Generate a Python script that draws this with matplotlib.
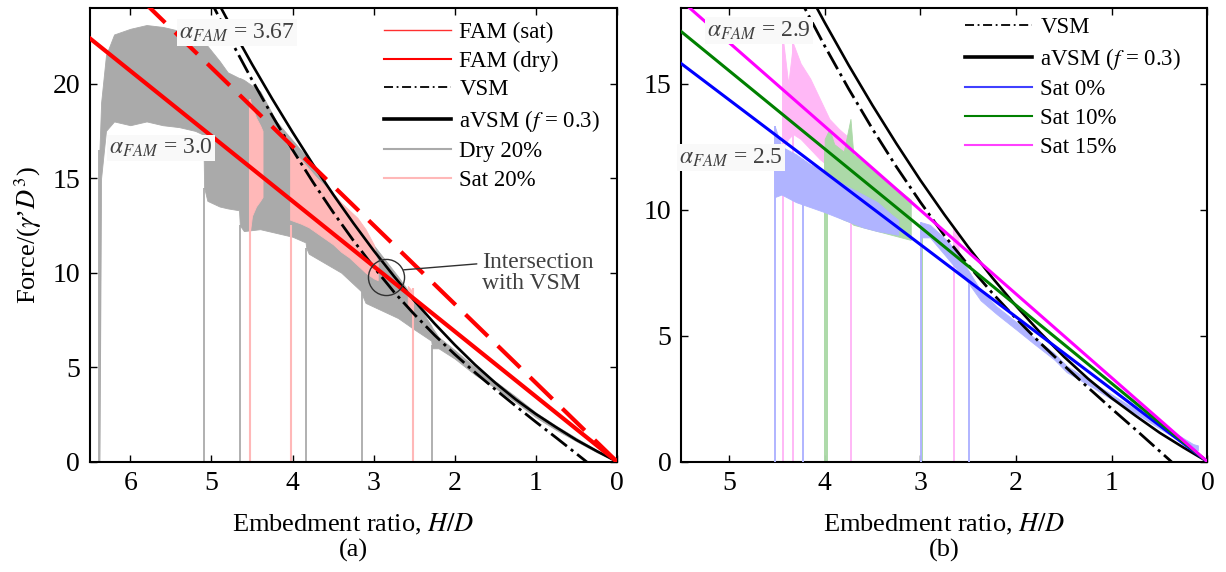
import matplotlib
matplotlib.use('Agg')
import matplotlib.pyplot as plt
from matplotlib.lines import Line2D

plt.rcParams['font.family'] = ['Liberation Serif', 'DejaVu Serif']
plt.rcParams['mathtext.fontset'] = 'stix'

# ---------------- model curves ----------------
# aVSM (f = 0.3)
avsm_h = [0, 0.25, 0.5, 0.75, 1.0, 1.25, 1.5, 1.75, 2.0, 2.25, 2.5, 2.75,
          3.0, 3.25, 3.5, 3.75, 4.0, 4.25, 4.5, 4.75, 5.0, 5.25]
avsm_f = [0, 0.56, 1.15, 1.82, 2.52, 3.3, 4.17, 5.13, 6.18, 7.31, 8.52, 9.81,
          11.17, 12.62, 14.14, 15.74, 17.43, 19.19, 21.03, 22.95, 24.95, 27.0]
# VSM
vsm_h = [0.3, 0.4, 0.5, 0.75, 1.0, 1.25, 1.5, 1.75, 2.0, 2.25, 2.5, 2.75,
         3.0, 3.25, 3.5, 3.75, 4.0, 4.25, 4.5, 4.75, 5.0, 5.25]
vsm_f = [-0.27, 0.08, 0.42, 1.27, 2.1, 2.95, 3.82, 4.72, 5.68, 6.7, 7.8, 8.98,
         10.3, 11.7, 13.2, 14.8, 16.5, 18.3, 20.2, 22.2, 24.3, 26.5]

# FAM lines, panel (a)
fam_h_a = [0, 6.5]
fam_sat_f = [0, 27.1]   # alpha_FAM = 3.67
fam_dry_f = [0, 22.4]   # alpha_FAM = 3.0
# FAM lines, panel (b)
fam_h_b = [0, 5.5]
fam_s0_f = [0, 15.8]    # alpha_FAM = 2.5
fam_s10_f = [0, 17.07]
fam_s15_f = [0, 18.3]   # alpha_FAM = 2.9

# ---------------- test data envelopes ----------------
# Dry 20% (grey)
dry_x = [6.38, 6.36, 6.3, 6.2, 6.0, 5.8, 5.6, 5.4, 5.2, 5.1, 5.09, 5.05, 4.9, 4.8,
         4.66, 4.65, 4.6, 4.4, 4.2, 4.0, 3.84, 3.83, 3.8, 3.6, 3.4, 3.15, 3.14, 3.1,
         2.9, 2.7, 2.5, 2.29, 2.28, 2.2, 2.0, 1.75, 1.5, 1.25, 1.0, 0.75, 0.5, 0.25, 0.0]
dry_hi = [16.5, 19.0, 21.5, 22.6, 22.9, 23.1, 23.0, 22.8, 22.5, 22.3, 22.2, 22.0, 21.2, 20.6,
          20.3, 20.3, 20.2, 19.6, 18.0, 17.0, 16.2, 16.2, 16.0, 14.8, 13.6, 12.3, 12.2, 12.0,
          10.9, 9.8, 8.6, 7.2, 7.1, 6.6, 5.9, 5.0, 4.25, 3.45, 2.6, 1.9, 1.25, 0.62, 0.0]
dry_lo = [0.0, 15.0, 17.5, 18.0, 17.8, 18.0, 17.8, 17.7, 17.5, 17.3, 14.5, 13.8, 13.5, 13.4,
          13.3, 12.5, 12.2, 12.3, 12.1, 11.9, 11.6, 11.3, 11.0, 10.5, 10.0, 9.0, 8.8, 8.4,
          8.0, 7.6, 7.0, 6.4, 6.0, 6.0, 5.45, 4.6, 3.9, 3.15, 2.35, 1.68, 1.08, 0.5, 0.0]
dry_start = [6.38, 5.09, 4.65, 3.83, 3.14, 2.28]
dry_start_top = [16.5, 14.5, 12.5, 11.3, 9.6, 6.2]

# Sat 20% (pink)
sat20_x1 = [4.53, 4.5, 4.45, 4.4, 4.37]
sat20_hi1 = [19.2, 18.8, 18.2, 17.8, 17.5]
sat20_lo1 = [12.0, 13.0, 13.5, 13.8, 14.0]
sat20_x2 = [4.03, 3.9, 3.8, 3.7, 3.6, 3.5, 3.4, 3.3, 3.2, 3.1, 3.0, 2.95]
sat20_hi2 = [16.5, 16.0, 15.5, 15.0, 14.6, 14.2, 13.7, 13.3, 12.9, 12.3, 11.5, 10.5]
sat20_lo2 = [12.8, 12.6, 12.4, 12.1, 11.8, 11.5, 11.1, 10.8, 10.4, 10.0, 9.7, 9.6]
sat20_x3 = [2.58, 2.52]
sat20_hi3 = [9.3, 9.0]
sat20_lo3 = [8.2, 8.0]
sat20_start = [4.53, 4.02, 2.52]
sat20_start_top = [19.2, 12.5, 9.2]

# Sat 0% (light blue)
s0_x1 = [4.52, 4.45, 4.3, 4.15, 4.0, 3.8, 3.6, 3.45, 3.3, 3.23]
s0_hi1 = [13.3, 12.5, 12.2, 11.8, 11.5, 11.0, 10.6, 10.3, 9.8, 9.6]
s0_lo1 = [10.5, 10.6, 10.3, 10.1, 9.9, 9.6, 9.3, 9.15, 9.05, 9.0]
s0_x2 = [2.99, 2.9, 2.7, 2.5, 2.37, 2.2, 2.0, 1.82, 1.6, 1.47, 1.2, 0.95, 0.7, 0.43, 0.15, 0.1]
s0_hi2 = [9.5, 9.4, 8.7, 7.6, 6.8, 6.15, 5.55, 4.95, 4.3, 3.8, 3.15, 2.55, 1.95, 1.35, 0.7, 0.65]
s0_lo2 = [8.9, 8.9, 8.0, 7.1, 6.4, 5.85, 5.25, 4.7, 4.05, 3.55, 2.95, 2.35, 1.8, 1.15, 0.5, 0.45]
s0_start = [4.52, 4.23, 2.99, 2.49]
s0_start_top = [13.3, 12.0, 9.5, 7.4]

# Sat 10% (light green)
s10_x = [4.0, 3.95, 3.9, 3.8, 3.73, 3.7, 3.6, 3.5, 3.4, 3.3, 3.2, 3.1]
s10_hi = [12.8, 13.2, 12.6, 12.3, 13.6, 12.2, 11.9, 11.6, 11.3, 11.0, 10.7, 10.4]
s10_lo = [10.0, 9.9, 9.8, 9.6, 9.5, 9.4, 9.3, 9.2, 9.1, 9.0, 8.9, 8.8]
s10_start = [4.0, 3.97, 2.98]
s10_start_top = [12.5, 12.8, 9.3]

# Sat 15% (light magenta)
s15_x1 = [4.43, 4.38, 4.33, 4.25, 4.15, 4.05, 3.95, 3.85, 3.73]
s15_hi1 = [16.6, 15.0, 16.6, 15.8, 15.2, 14.4, 13.6, 13.2, 12.8]
s15_lo1 = [12.5, 12.8, 13.0, 12.8, 12.4, 12.0, 11.7, 11.4, 11.0]
s15_x2 = [2.66, 2.6]
s15_hi2 = [9.3, 9.0]
s15_lo2 = [8.5, 8.3]
s15_start = [4.43, 4.33, 3.72, 2.65]
s15_start_top = [16.6, 16.6, 12.8, 9.3]

GREY = '#aaaaaa'
PINK = '#ffb8b8'
LBLUE = '#b0b4ff'
LGREEN = '#acd9a8'
LMAG = '#ffb8f6'
TXT = '#404040'

fig = plt.figure(figsize=(12.26, 5.72), dpi=100)
ax1 = fig.add_axes([0.0732, 0.1928, 0.4301, 0.7932])
ax2 = fig.add_axes([0.5555, 0.1928, 0.4294, 0.7932])

dashdot = (0, (7.2, 1.8, 1.1, 1.8))

# ---------------- panel (a) ----------------
ax1.fill_between(dry_x, dry_lo, dry_hi, color=GREY, lw=0.6, zorder=1)
ax1.vlines(dry_start, 0, dry_start_top, color=GREY, lw=1.3, zorder=1)
for xs, lo, hi in [(sat20_x1, sat20_lo1, sat20_hi1), (sat20_x2, sat20_lo2, sat20_hi2),
                   (sat20_x3, sat20_lo3, sat20_hi3)]:
    ax1.fill_between(xs, lo, hi, color=PINK, lw=0.6, zorder=2)
ax1.vlines(sat20_start, 0, sat20_start_top, color=PINK, lw=1.5, zorder=2)

ax1.plot(vsm_h, vsm_f, color='k', lw=2.0, ls=dashdot, zorder=4)
ax1.plot(avsm_h, avsm_f, color='k', lw=1.9, zorder=4)
ax1.plot(fam_h_a, fam_dry_f, color='#ff0000', lw=3.0, zorder=5)
ax1.plot(fam_h_a, fam_sat_f, color='#ff0000', lw=3.0, ls=(0, (7.5, 3.3)), zorder=5)

ax1.plot([2.845], [9.76], marker='o', ms=26, mfc='none', mec='#303030', mew=1.0, zorder=6)
ax1.annotate('Intersection\nwith VSM', xy=(2.63, 10.15), xytext=(1.66, 10.0),
             ha='left', va='center', fontsize=17, color=TXT, linespacing=1.0,
             arrowprops=dict(arrowstyle='-', color='#303030', lw=1.0,
                             relpos=(0, 0.72), shrinkA=2, shrinkB=0), zorder=7)
box = dict(facecolor='#f9f9f9', edgecolor='none', pad=1.5)
ax1.text(4.68, 22.7, r'$\alpha_{FAM}$ = 3.67', fontsize=17, color=TXT,
         ha='center', va='center', bbox=box, zorder=7)
ax1.text(5.62, 16.6, r'$\alpha_{FAM}$ = 3.0', fontsize=17, color=TXT,
         ha='center', va='center', bbox=box, zorder=7)

ax1.set_xlim(6.5, 0)
ax1.set_ylim(0, 24)
ax1.set_xticks([6, 5, 4, 3, 2, 1, 0])
ax1.set_yticks([0, 5, 10, 15, 20])
ax1.set_xlabel('Embedment ratio, $H/D$', fontsize=19, labelpad=11)
ax1.set_ylabel("Force/($\\gamma$\u2019$D^3$)", fontsize=19, labelpad=6)

h1 = [Line2D([], [], color='#ff3030', lw=1.0),
      Line2D([], [], color='#ff0000', lw=1.5),
      Line2D([], [], color='k', lw=1.3, ls=(0, (5, 2, 1, 2))),
      Line2D([], [], color='k', lw=2.6),
      Line2D([], [], color=GREY, lw=1.5),
      Line2D([], [], color=PINK, lw=1.5)]
l1 = ['FAM (sat)', 'FAM (dry)', 'VSM', 'aVSM ($f$ = 0.3)', 'Dry 20%', 'Sat 20%']
ax1.legend(h1, l1, loc='upper left', bbox_to_anchor=(0.313, 0.962),
           bbox_transform=fig.transFigure, frameon=False, fontsize=16.5,
           handlelength=2.95, handletextpad=0.35, labelspacing=0.33,
           borderpad=0, borderaxespad=0)

# ---------------- panel (b) ----------------
ax2.fill_between(s15_x1, s15_lo1, s15_hi1, color=LMAG, lw=0.6, zorder=1)
ax2.fill_between(s15_x2, s15_lo2, s15_hi2, color=LMAG, lw=0.6, zorder=1)
ax2.vlines(s15_start, 0, s15_start_top, color=LMAG, lw=1.4, zorder=1)
ax2.fill_between(s10_x, s10_lo, s10_hi, color=LGREEN, lw=0.6, zorder=2)
ax2.vlines(s10_start, 0, s10_start_top, color=LGREEN, lw=1.4, zorder=2)
ax2.fill_between(s0_x1, s0_lo1, s0_hi1, color=LBLUE, lw=0.6, zorder=3)
ax2.fill_between(s0_x2, s0_lo2, s0_hi2, color=LBLUE, lw=0.6, zorder=3)
ax2.vlines(s0_start, 0, s0_start_top, color=LBLUE, lw=1.4, zorder=3)

ax2.plot(vsm_h, vsm_f, color='k', lw=2.0, ls=dashdot, zorder=4)
ax2.plot(avsm_h, avsm_f, color='k', lw=1.9, zorder=4)
ax2.plot(fam_h_b, fam_s0_f, color='#0000ff', lw=2.2, zorder=5)
ax2.plot(fam_h_b, fam_s10_f, color='#008000', lw=2.2, zorder=5)
ax2.plot(fam_h_b, fam_s15_f, color='#ff00ff', lw=2.2, zorder=5)

ax2.text(4.69, 17.1, r'$\alpha_{FAM}$ = 2.9', fontsize=17, color=TXT,
         ha='center', va='center', bbox=box, zorder=7)
ax2.text(4.98, 12.06, r'$\alpha_{FAM}$ = 2.5', fontsize=17, color=TXT,
         ha='center', va='center', bbox=box, zorder=7)

ax2.set_xlim(5.5, 0)
ax2.set_ylim(0, 18)
ax2.set_xticks([5, 4, 3, 2, 1, 0])
ax2.set_yticks([0, 5, 10, 15])
ax2.set_xlabel('Embedment ratio, $H/D$', fontsize=19, labelpad=11)

h2 = [Line2D([], [], color='k', lw=1.3, ls=(0, (5, 2, 1, 2))),
      Line2D([], [], color='k', lw=2.6),
      Line2D([], [], color='#4040ff', lw=1.5),
      Line2D([], [], color='#008000', lw=1.5),
      Line2D([], [], color='#ff40ff', lw=1.5)]
l2 = ['VSM', 'aVSM ($f$ = 0.3)', 'Sat 0%', 'Sat 10%', 'Sat 15%']
ax2.legend(h2, l2, loc='upper left', bbox_to_anchor=(0.787, 0.970),
           bbox_transform=fig.transFigure, frameon=False, fontsize=16.5,
           handlelength=2.95, handletextpad=0.35, labelspacing=0.33,
           borderpad=0, borderaxespad=0)

for ax in (ax1, ax2):
    ax.tick_params(direction='in', top=True, right=True, length=5, width=1.0,
                   labelsize=20, pad=7)
    for sp in ax.spines.values():
        sp.set_linewidth(1.5)

fig.text(0.288, 0.038, '(a)', fontsize=19, ha='center', va='center')
fig.text(0.770, 0.038, '(b)', fontsize=19, ha='center', va='center')

fig.savefig('out.png', dpi=100)
